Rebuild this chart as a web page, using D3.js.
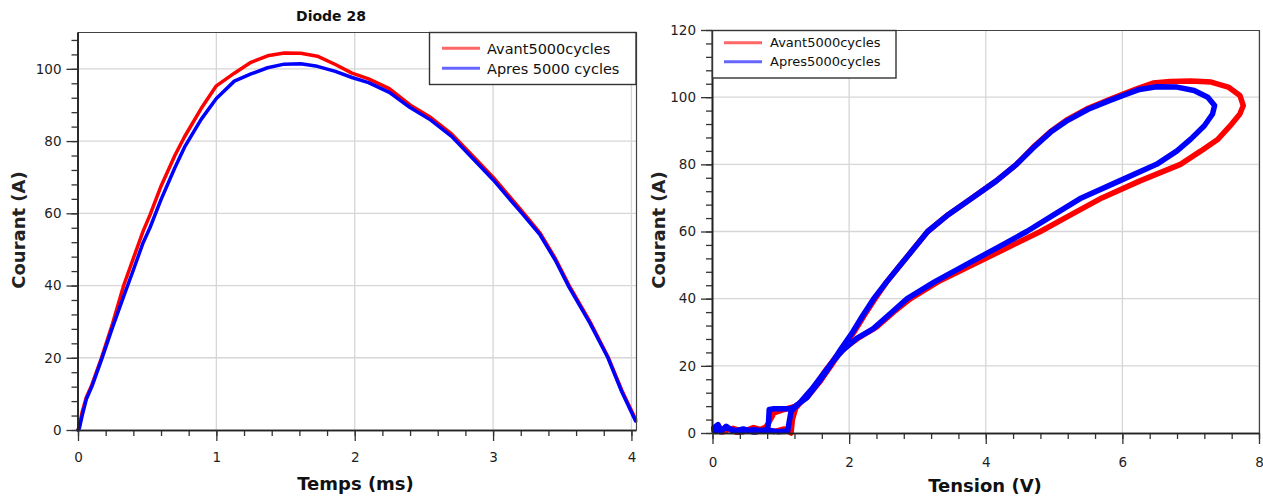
<!DOCTYPE html>
<html>
<head>
<meta charset="utf-8">
<script src="https://cdn.jsdelivr.net/npm/d3@7"></script>
<style>
  html, body { margin: 0; padding: 0; background: #fff; }
  svg { display: block; }
  text { font-family: "DejaVu Sans", sans-serif; }
</style>
</head>
<body>
<svg id="chart" width="1263" height="497"></svg>
<script>
// ---------- Data: left chart, current vs time ----------
const timeMs = [0, 0.01, 0.03, 0.06, 0.1, 0.17, 0.25, 0.33, 0.4, 0.47, 0.52, 0.6, 0.7, 0.77, 0.89, 1.0,
  1.13, 1.25, 1.37, 1.49, 1.61, 1.73, 1.86, 1.98, 2.1, 2.25, 2.4, 2.55, 2.7, 2.85, 3.0, 3.1, 3.2,
  3.34, 3.45, 3.55, 3.7, 3.83, 3.93, 4.03];
const courantAvant = [0, 1, 5, 9, 12.5, 20, 29.5, 40, 47.5, 55, 59.5, 67.5, 76, 81.2, 89, 95.3,
  98.8, 101.8, 103.6, 104.4, 104.3, 103.5, 101.2, 98.8, 97.2, 94.5, 90, 86.5, 82, 76, 70, 65.5, 61,
  54.5, 47.5, 40, 30, 20.3, 11, 3];
const courantApres = [0, 0.5, 4, 8.5, 12, 19.5, 28.5, 37, 44.3, 51.8, 56, 63.8, 72.6, 78.3, 86, 91.8,
  96.6, 98.6, 100.3, 101.3, 101.4, 100.7, 99.3, 97.6, 96.2, 93.5, 89.3, 85.8, 81.3, 75.3, 69.3, 64.8, 60.4,
  54, 47, 39.5, 29.6, 20, 10.6, 2.5];

// ---------- Data: right chart, current vs voltage ----------
const tensionAvant = [0.02, 0.1, 0.15, 0.25, 0.35, 0.5, 0.65, 0.75, 0.9, 1.05, 1.15,
  1.17, 1.22, 1.35, 1.5, 1.65, 1.8, 1.95, 2.15, 2.4, 2.65, 2.9, 3.3, 3.8, 4.3, 4.8, 5.25, 5.7, 6.25, 6.85,
  7.15, 7.4, 7.6, 7.72, 7.77, 7.72, 7.55, 7.3, 7.0, 6.7, 6.45, 6.25,
  6.05, 5.8, 5.5, 5.2, 4.95, 4.7, 4.45, 4.15, 3.8, 3.45, 3.15, 2.95, 2.75, 2.55, 2.38, 2.22, 2.07,
  1.9, 1.75, 1.58, 1.4, 1.22, 1.05, 0.9, 0.82, 0.75, 0.6, 0.45, 0.3, 0.15, 0.05];
const courantAvantIV = [0.8, 1.8, 0.3, 1.2, 0.2, 0.9, 0.3, 1.5, 0.4, 1.2, 0.0,
  4, 7.5, 10.5, 14, 18.5, 22.5, 25.5, 28.5, 31.5, 36, 40, 45, 50, 55, 60, 65, 70, 75, 80,
  84, 87.5, 92, 95, 97.5, 100.5, 103, 104.5, 104.8, 104.7, 104.2, 102.8,
  101.2, 99.2, 96.7, 93.4, 89.8, 85.2, 80, 75, 70, 65, 60, 55, 50, 45, 40, 35, 30,
  25, 20.5, 15.5, 11, 8, 7, 6, 3, 0.8, 1.6, 0.4, 1.4, 0.5, 1.5];
const tensionApres = [0.02, 0.08, 0.12, 0.2, 0.3, 0.45, 0.6, 0.78, 0.95, 1.1,
  1.12, 1.15, 1.3, 1.45, 1.6, 1.75, 1.9, 2.1, 2.35, 2.6, 2.85, 3.25, 3.7, 4.15, 4.6, 5.0, 5.4, 5.95, 6.5,
  6.8, 7.0, 7.2, 7.32, 7.35, 7.25, 7.05, 6.8, 6.5, 6.25,
  6.05, 5.8, 5.5, 5.2, 4.95, 4.7, 4.45, 4.15, 3.8, 3.45, 3.15, 2.95, 2.75, 2.55, 2.36, 2.2, 2.05,
  1.88, 1.72, 1.55, 1.38, 1.18, 1.12, 0.9, 0.83, 0.82, 0.8, 0.6, 0.4, 0.2, 0.05];
const courantApresIV = [1.5, 2.5, 0.4, 2.0, 0.5, 1.2, 0.3, 1.0, 0.4, 0.6,
  3, 6.5, 9.5, 13, 17, 21, 24.5, 28, 31, 35.5, 40, 45, 50, 55, 60, 65, 70, 75, 80,
  84, 87.5, 91.5, 95, 97.5, 100, 102, 103, 103.1, 102.3,
  100.8, 98.9, 96.4, 93.1, 89.6, 85, 80, 75, 70, 65, 60, 55, 50, 45, 40, 35, 30,
  25, 20, 15, 10.5, 7.5, 7.2, 7.2, 7, 3, 0.5, 1.0, 0.3, 1.5, 0.5];

// ---------- Labels and ticks ----------
const leftTitle = "Diode 28";
const leftXLabel = "Temps (ms)";
const rightXLabel = "Tension (V)";
const yLabel = "Courant (A)";
const leftLegend = ["Avant5000cycles", "Apres 5000 cycles"];
const rightLegend = ["Avant5000cycles", "Apres5000cycles"];
const leftXTicks = [0, 1, 2, 3, 4];
const leftYTicks = [0, 20, 40, 60, 80, 100];
const rightXTicks = [0, 2, 4, 6, 8];
const rightYTicks = [0, 20, 40, 60, 80, 100, 120];

const RED = "#ff0000", BLUE = "#0000ff";
const svg = d3.select("#chart");

function panel(cfg) {
  const g = svg.append("g");
  const x = cfg.x, y = cfg.y;
  const [x0, x1] = x.range(), [y0, y1] = y.range();
  // grid
  g.append("g").selectAll("line").data(cfg.xTicks.filter(d => d > 0)).join("line")
    .attr("x1", d => x(d)).attr("x2", d => x(d)).attr("y1", y0).attr("y2", y1)
    .attr("stroke", "#d6d6d6").attr("stroke-width", 1.3);
  g.append("g").selectAll("line").data(cfg.yTicks.filter(d => d > 0 && y(d) > y1 + 2)).join("line")
    .attr("x1", x0).attr("x2", x1).attr("y1", d => y(d)).attr("y2", d => y(d))
    .attr("stroke", "#d6d6d6").attr("stroke-width", 1.3);
  // series
  const line = d3.line().x(d => x(d[0])).y(d => y(d[1]));
  cfg.series.forEach(s => {
    g.append("path").datum(s.xs.map((v, i) => [v, s.ys[i]]))
      .attr("d", line).attr("fill", "none").attr("stroke", s.color)
      .attr("stroke-width", cfg.lw).attr("stroke-linejoin", "round").attr("stroke-linecap", "round");
  });
  // frame top/right
  g.append("path").attr("d", `M${x0},${y1 + 0.5}H${x1 + 0.5}V${y0}`)
    .attr("fill", "none").attr("stroke", "#444").attr("stroke-width", 1.2);
  // ticks
  const fmt = d3.format("d");
  const xMinor = d3.axisBottom(x).tickValues(cfg.xMinor).tickSize(6).tickFormat("").tickSizeOuter(0);
  const yMinor = d3.axisLeft(y).tickValues(cfg.yMinor).tickSize(6).tickFormat("").tickSizeOuter(0);
  const xMaj = d3.axisBottom(x).tickValues(cfg.xTicks).tickFormat(fmt).tickSize(11).tickPadding(cfg.xPad).tickSizeOuter(0);
  const yMaj = d3.axisLeft(y).tickValues(cfg.yTicks).tickFormat(fmt).tickSize(11).tickPadding(5).tickSizeOuter(0);
  [xMinor, xMaj].forEach(ax => {
    g.append("g").attr("transform", `translate(0,${y0})`).call(ax);
  });
  [yMinor, yMaj].forEach(ax => {
    g.append("g").attr("transform", `translate(${x0 - 0.5},0)`).call(ax);
  });
  g.selectAll(".domain").attr("stroke", "#222").attr("stroke-width", 1.6);
  g.selectAll(".tick line").attr("stroke", "#333").attr("stroke-width", 1.3);
  g.selectAll(".tick text").attr("font-family", "DejaVu Sans").attr("font-size", "13.5px").attr("fill", "#1e1e1e");
  // legend
  const L = cfg.legend;
  g.append("rect").attr("x", L.x).attr("y", L.y).attr("width", L.w).attr("height", L.h)
    .attr("fill", "#fff").attr("stroke", "#333").attr("stroke-width", 1.4);
  L.items.forEach((t, i) => {
    const yy = L.rowY[i];
    g.append("line").attr("x1", L.lx1).attr("x2", L.lx2).attr("y1", yy).attr("y2", yy)
      .attr("stroke", cfg.series[i].color).attr("stroke-opacity", 0.6).attr("stroke-width", 3);
    g.append("text").attr("x", L.tx).attr("y", yy + L.fs * 0.36).text(t)
      .attr("font-size", L.fs + "px").attr("fill", "#111");
  });
  // axis titles
  svg.append("text").attr("x", cfg.xLabelPos[0]).attr("y", cfg.xLabelPos[1]).attr("text-anchor", "middle")
    .attr("font-size", "18px").attr("font-weight", "bold").attr("fill", "#111").text(cfg.xLabel);
  svg.append("text").attr("transform", `translate(${cfg.yLabelPos[0]},${cfg.yLabelPos[1]}) rotate(-90)`)
    .attr("text-anchor", "middle").attr("font-size", "18px").attr("font-weight", "bold")
    .attr("fill", "#222").text(yLabel);
}

const xL = d3.scaleLinear().domain([0, 4.033]).range([78, 636]);
const yL = d3.scaleLinear().domain([0, 110.2]).range([430, 32]);
panel({
  x: xL, y: yL, lw: 3.5,
  xTicks: leftXTicks, yTicks: leftYTicks, xPad: 11,
  xMinor: d3.range(0, 4.02, 0.2), yMinor: d3.range(0, 110, 4),
  series: [{ xs: timeMs, ys: courantAvant, color: RED }, { xs: timeMs, ys: courantApres, color: BLUE }],
  legend: { x: 429.5, y: 32.5, w: 206.5, h: 52, lx1: 442, lx2: 480, tx: 487, rowY: [48.3, 68.3], fs: 14.5, items: leftLegend },
  xLabel: leftXLabel, xLabelPos: [355.5, 490], yLabelPos: [25, 230]
});
svg.append("text").attr("x", 331).attr("y", 21).attr("text-anchor", "middle")
  .attr("font-size", "14px").attr("font-weight", "bold").attr("fill", "#111").text(leftTitle);

const xR = d3.scaleLinear().domain([0, 8]).range([712.5, 1259]);
const yR = d3.scaleLinear().domain([0, 120]).range([433, 30]);
panel({
  x: xR, y: yR, lw: 5.5,
  xTicks: rightXTicks, yTicks: rightYTicks, xPad: 13,
  xMinor: d3.range(0, 8.01, 0.4), yMinor: d3.range(0, 120.1, 4),
  series: [{ xs: tensionAvant, ys: courantAvantIV, color: RED }, { xs: tensionApres, ys: courantApresIV, color: BLUE }],
  legend: { x: 712.5, y: 30.5, w: 183.5, h: 47.5, lx1: 724, lx2: 762, tx: 770, rowY: [42.7, 61.7], fs: 13, items: rightLegend },
  xLabel: rightXLabel, xLabelPos: [985, 492], yLabelPos: [665, 230]
});
</script>
</body>
</html>
